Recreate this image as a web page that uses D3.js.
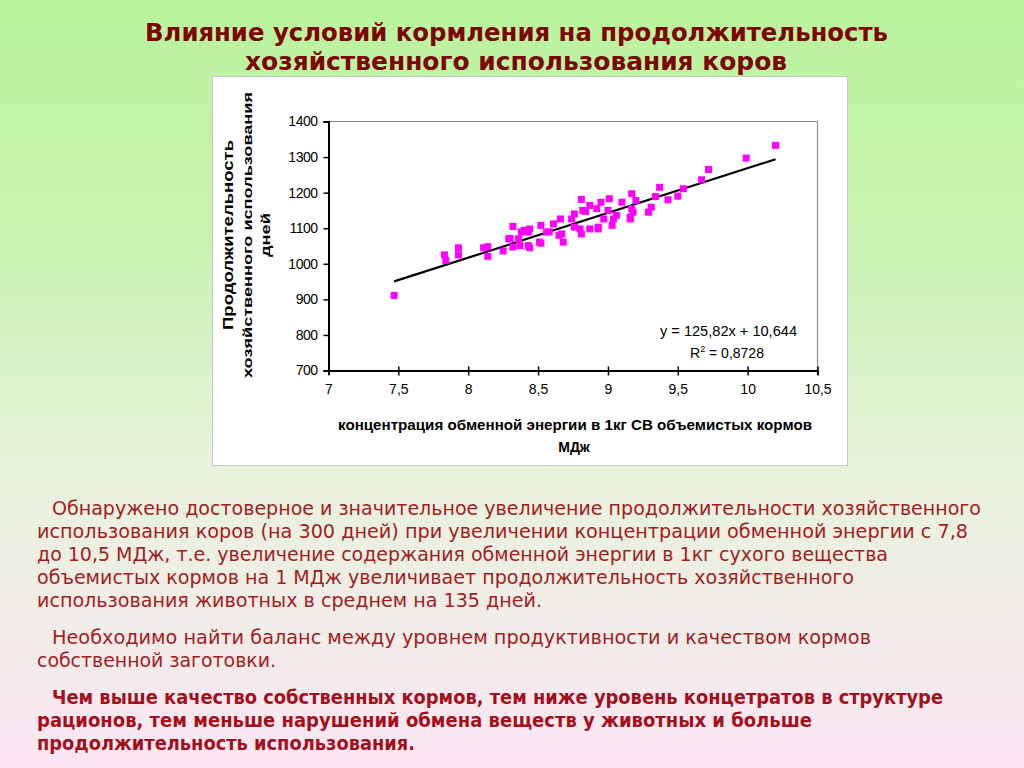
<!DOCTYPE html>
<html><head><meta charset="utf-8">
<script src="https://cdn.jsdelivr.net/npm/d3@7"></script>
<style>html,body{margin:0;padding:0;overflow:hidden}svg{display:block}</style>
</head><body>
<svg id="c" width="1024" height="768"></svg>
<script>
// ---- data ----
const energy = [7.47,7.83,7.84,7.93,7.93,8.11,8.14,8.14,8.25,8.29,8.32,8.32,8.36,8.38,8.37,8.43,8.43,8.40,8.44,8.44,
  8.51,8.52,8.56,8.61,8.66,8.67,8.68,8.74,8.76,8.81,8.80,8.81,8.84,8.87,8.87,8.92,8.93,8.95,8.97,9.00,
  9.01,9.03,9.06,9.10,9.16,9.17,9.17,9.20,9.29,9.31,9.34,9.37,9.43,9.50,9.54,9.67,9.72,9.99,10.20,
  8.30,8.52,8.58,8.65,8.76,8.82,9.04,9.18,8.93,9.16];
const days = [911,1025,1009,1045,1025,1045,1048,1021,1036,1070,1105,1047,1070,1089,1051,1089,1051,1094,1098,1045,
  1061,1108,1089,1112,1126,1084,1061,1126,1140,1181,1098,1084,1147,1164,1098,1155,1098,1173,1126,1150,
  1183,1108,1136,1173,1126,1197,1155,1178,1145,1159,1189,1215,1180,1190,1211,1236,1265,1297,1333,
  1071,1058,1090,1080,1103,1150,1126,1145,1103,1131];
const xTicks = [7,7.5,8,8.5,9,9.5,10,10.5];
const yTicks = [700,800,900,1000,1100,1200,1300,1400];
const slope = 125.82, intercept = 10.644;
const eqLabel = "y = 125,82x + 10,644";
const r2Label = " = 0,8728";

const title = ["Влияние условий кормления на продолжительность","хозяйственного использования коров"];
const yTitle = ["Продолжительность","хозяйственного использования","дней"];
const xTitle = ["концентрация обменной энергии в 1кг СВ объемистых кормов","МДж"];
const para1 = ["Обнаружено достоверное и значительное увеличение продолжительности хозяйственного",
  "использования коров (на 300 дней) при увеличении концентрации обменной энергии с 7,8",
  "до 10,5 МДж, т.е. увеличение содержания обменной энергии в 1кг сухого вещества",
  "объемистых кормов на 1 МДж увеличивает продолжительность хозяйственного",
  "использования животных в среднем на 135 дней."];
const para2 = ["Необходимо найти баланс между уровнем продуктивности и качеством кормов","собственной заготовки."];
const para3 = ["Чем выше качество собственных кормов, тем ниже уровень концетратов в структуре",
  "рационов, тем меньше нарушений обмена веществ у животных и больше","продолжительность использования."];

const svg = d3.select("#c");
const defs = svg.append("defs");
const g = defs.append("linearGradient").attr("id","bg").attr("x1",0).attr("y1",0).attr("x2",0).attr("y2",1);
g.append("stop").attr("offset","0%").attr("stop-color","#b9f59c");
g.append("stop").attr("offset","30%").attr("stop-color","#c8f3b0");
g.append("stop").attr("offset","62%").attr("stop-color","#e8f3dc");
g.append("stop").attr("offset","100%").attr("stop-color","#fbe6f4");
svg.append("rect").attr("width",1024).attr("height",768).attr("fill","url(#bg)");

const bodyFont = "'Liberation Sans Narrow','DejaVu Sans Condensed','Open Sans',sans-serif";
// title
const tl = [{t:title[0],x:145,w:743,y:41},{t:title[1],x:245,w:542,y:70}];
svg.selectAll(".tt").data(tl).join("text").attr("class","tt")
  .attr("x",d=>d.x).attr("y",d=>d.y).attr("textLength",d=>d.w).attr("lengthAdjust","spacingAndGlyphs")
  .attr("font-family",bodyFont).attr("font-weight","bold").attr("font-size",25).attr("fill","#7d0505").text(d=>d.t);

// chart box
svg.append("rect").attr("x",212.5).attr("y",76.5).attr("width",635).attr("height",389)
  .attr("fill","#fff").attr("stroke","#c8c8c8").attr("stroke-width",1);

const x = d3.scaleLinear().domain([7,10.5]).range([328.5,817.5]);
const y = d3.scaleLinear().domain([700,1400]).range([370.5,121.5]);
const chartFont = "'Liberation Sans',Arial,sans-serif";

// plot border (top/right gray)
svg.append("path").attr("d",`M${x(7)},${y(1400)}H${x(10.5)}V${y(700)}`).attr("fill","none").attr("stroke","#8c8c8c").attr("stroke-width",1.2);

const xAxis = d3.axisBottom(x).tickValues(xTicks).tickSize(4).tickFormat(d=>String(d).replace(".",","));
const gx = svg.append("g").attr("transform",`translate(0,${y(700)})`).call(xAxis);
gx.select(".domain").attr("stroke","#000").attr("stroke-width",2);
gx.selectAll(".tick line").attr("y1",-4).attr("y2",5).attr("stroke","#000").attr("stroke-width",1.5);
gx.selectAll(".tick text").attr("font-family",chartFont).attr("font-size",14).attr("fill","#000").attr("dy","0").attr("y",23);

const yAxis = d3.axisLeft(y).tickValues(yTicks).tickSize(5).tickPadding(6).tickFormat(d3.format("d"));
const gy = svg.append("g").attr("transform",`translate(${x(7)},0)`).call(yAxis);
gy.select(".domain").attr("stroke","#000").attr("stroke-width",2);
gy.selectAll(".tick line").attr("stroke","#000").attr("stroke-width",1.5);
gy.selectAll(".tick text").attr("font-family",chartFont).attr("font-size",14).attr("fill","#000").attr("letter-spacing","-0.5");

// trend line
const xmin = d3.min(energy), xmax = d3.max(energy);
svg.append("line").attr("x1",x(xmin)).attr("y1",y(slope*xmin+intercept))
  .attr("x2",x(xmax)).attr("y2",y(slope*xmax+intercept)).attr("stroke","#000").attr("stroke-width",2.2);

// points
const pts = energy.map((e,i)=>({e,d:days[i]}));
svg.selectAll(".pt").data(pts).join("rect").attr("class","pt")
  .attr("x",d=>x(d.e)-3.5).attr("y",d=>y(d.d)-3.5).attr("width",7).attr("height",7).attr("fill","#ff00ff");

// equation
svg.append("text").attr("x",660).attr("y",336).attr("textLength",137).attr("lengthAdjust","spacingAndGlyphs")
  .attr("font-family",chartFont).attr("font-size",14).text(eqLabel);
const r2 = svg.append("text").attr("x",690).attr("y",358).attr("font-family",chartFont).attr("font-size",14);
r2.append("tspan").text("R");
r2.append("tspan").attr("font-size",9).attr("dy",-6).text("2");
r2.append("tspan").attr("dy",6).text(r2Label);

// axis titles
const yt = [{t:yTitle[0],cx:228,w:190,fs:15},{t:yTitle[1],cx:247,w:286,fs:13},{t:yTitle[2],cx:265,w:44,fs:13}];
svg.selectAll(".yt").data(yt).join("text").attr("class","yt")
  .attr("transform",d=>`translate(${d.cx+d.fs*0.36},235) rotate(-90)`)
  .attr("text-anchor","middle").attr("textLength",d=>d.w).attr("lengthAdjust","spacingAndGlyphs")
  .attr("font-family",chartFont).attr("font-weight","bold").attr("font-size",d=>d.fs).text(d=>d.t);
svg.append("text").attr("x",338).attr("y",430).attr("textLength",474).attr("lengthAdjust","spacingAndGlyphs")
  .attr("font-family",chartFont).attr("font-weight","bold").attr("font-size",14).text(xTitle[0]);
svg.append("text").attr("x",574).attr("y",452).attr("text-anchor","middle")
  .attr("font-family",chartFont).attr("font-weight","bold").attr("font-size",14).text(xTitle[1]);

// body text
const lines = [];
const w1 = [929,931,851,817,505], w2=[819,239], w3=[891,775,378];
para1.forEach((t,i)=>lines.push({t,x:i?37:52,w:w1[i],y:515+i*23,b:false}));
para2.forEach((t,i)=>lines.push({t,x:i?37:52,w:w2[i],y:644+i*23,b:false}));
para3.forEach((t,i)=>lines.push({t,x:i?37:52,w:w3[i],y:704+i*23,b:true}));
svg.selectAll(".bl").data(lines).join("text").attr("class","bl")
  .attr("x",d=>d.x).attr("y",d=>d.y).attr("textLength",d=>d.w).attr("lengthAdjust","spacingAndGlyphs")
  .attr("font-family",bodyFont).attr("font-size",20).attr("font-weight",d=>d.b?"bold":"normal")
  .attr("fill",d=>d.b?"#a3101c":"#a21d22").text(d=>d.t);
</script>
</body></html>
